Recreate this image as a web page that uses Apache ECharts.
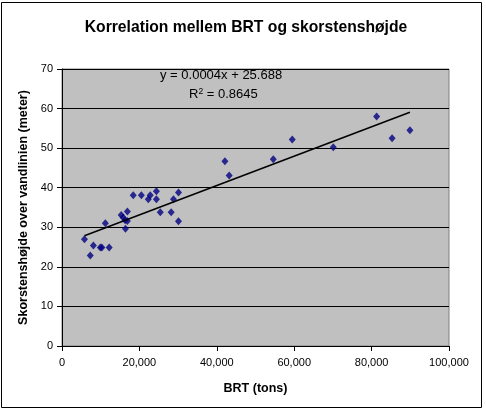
<!DOCTYPE html>
<html>
<head>
<meta charset="utf-8">
<script src="https://cdn.jsdelivr.net/npm/echarts@6/dist/echarts.min.js"></script>
<style>
  html, body { margin: 0; padding: 0; background: #fff; }
  #chart { width: 486px; height: 414px; }
</style>
</head>
<body>
<div id="chart"></div>
<script>
// BRT (tons) vs chimney height (m)
var brt = [5800, 7300, 8100, 9900, 10300, 12200, 11200, 15300, 15800, 16300, 16900, 16900, 16400,
           18400, 20500, 22300, 22800, 24400, 24400, 25400, 28200, 28800, 30100, 30100,
           42100, 43200, 54600, 59500, 70100, 81300, 85300, 89900];
var height = [27.0, 22.9, 25.4, 24.9, 24.9, 24.9, 31.0, 33.1, 32.5, 31.8, 34.0, 31.6, 29.6,
              38.1, 38.1, 37.1, 38.1, 39.1, 37.1, 33.8, 33.8, 37.1, 38.8, 31.5,
              46.7, 43.1, 47.2, 52.2, 50.2, 58.0, 52.5, 54.5];
var xTicks = [0, 20000, 40000, 60000, 80000, 100000];
var yTicks = [0, 10, 20, 30, 40, 50, 60, 70];

var points = [];
for (var i = 0; i < brt.length; i++) {
	points.push([brt[i], height[i]]);
}

// least squares trend line, drawn from min to max x like Excel does
function linearFit(xs, ys) {
	var n = xs.length, sx = 0, sy = 0, sxx = 0, sxy = 0;
	for (var i = 0; i < n; i++) {
		sx += xs[i]; sy += ys[i];
		sxx += xs[i] * xs[i]; sxy += xs[i] * ys[i];
	}
	var slope = (n * sxy - sx * sy) / (n * sxx - sx * sx);
	return { slope: slope, intercept: (sy - slope * sx) / n };
}
var fit = linearFit(brt, height);
var xMin = Math.min.apply(null, brt), xMax = Math.max.apply(null, brt);
var trend = [[xMin, fit.intercept + fit.slope * xMin], [xMax, fit.intercept + fit.slope * xMax]];

var font = '"Liberation Sans", Arial, sans-serif';

var eChart = echarts.init(document.getElementById('chart'));

var eChartOption = {
	animation: false,
	textStyle: { fontFamily: font },
	title: {
		text: 'Korrelation mellem BRT og skorstenshøjde',
		left: 241,
		top: 15,
		textAlign: 'center',
		textStyle: { fontSize: 15.7, fontWeight: 'bold', color: '#000', fontFamily: font }
	},
	grid: {
		left: 62,
		right: 37,
		top: 69,
		bottom: 68,
		show: true,
		backgroundColor: '#c0c0c0',
		borderColor: '#808080',
		borderWidth: 1
	},
	xAxis: {
		type: 'value',
		min: xTicks[0],
		max: xTicks[xTicks.length - 1],
		interval: 20000,
		name: 'BRT (tons)',
		nameLocation: 'middle',
		nameGap: 36,
		nameTextStyle: { fontSize: 12.5, fontWeight: 'bold', color: '#000' },
		axisLine: { lineStyle: { color: '#000', width: 1 } },
		axisTick: { show: true, length: 5, lineStyle: { color: '#000' } },
		axisLabel: {
			fontSize: 11, color: '#000', margin: 11,
			formatter: function (v) { return v.toLocaleString('en-US'); }
		},
		splitLine: { show: false }
	},
	yAxis: {
		type: 'value',
		min: yTicks[0],
		max: yTicks[yTicks.length - 1],
		interval: 10,
		name: 'Skorstenshøjde over vandlinien (meter)',
		nameLocation: 'middle',
		nameGap: 31,
		nameTextStyle: { fontSize: 12.5, fontWeight: 'bold', color: '#000' },
		axisLine: { show: true, lineStyle: { color: '#000', width: 1 } },
		axisTick: { show: true, length: 5, lineStyle: { color: '#000' } },
		axisLabel: { fontSize: 11, color: '#000', margin: 9 },
		splitLine: { show: true, lineStyle: { color: '#000', width: 1 } }
	},
	series: [
		{
			name: 'Skibe',
			type: 'scatter',
			data: points,
			symbol: 'diamond',
			symbolSize: [7, 8],
			itemStyle: { color: '#000080' },
			z: 3
		},
		{
			name: 'Trend',
			type: 'line',
			data: trend,
			symbol: 'none',
			lineStyle: { color: '#000', width: 1.5 },
			z: 4
		}
	],
	graphic: [
		{
			type: 'rect',
			shape: { x: 1.5, y: 2.5, width: 480, height: 405 },
			style: { fill: 'none', stroke: '#000', lineWidth: 1 },
			silent: true
		},
		{
			type: 'text',
			left: 160,
			top: 69,
			style: { text: 'y = 0.0004x + 25.688', fontSize: 13, fill: '#000', fontFamily: font },
			z: 10
		},
		{
			type: 'text',
			left: 189,
			top: 87,
			style: {
				text: 'R{sup|2} = 0.8645',
				fontSize: 13, fill: '#000', fontFamily: font,
				rich: { sup: { fontSize: 8.5, verticalAlign: 'top', padding: [0, 0, 6, 0] } }
			},
			z: 10
		}
	]
};

eChart.setOption(eChartOption);
</script>
</body>
</html>
